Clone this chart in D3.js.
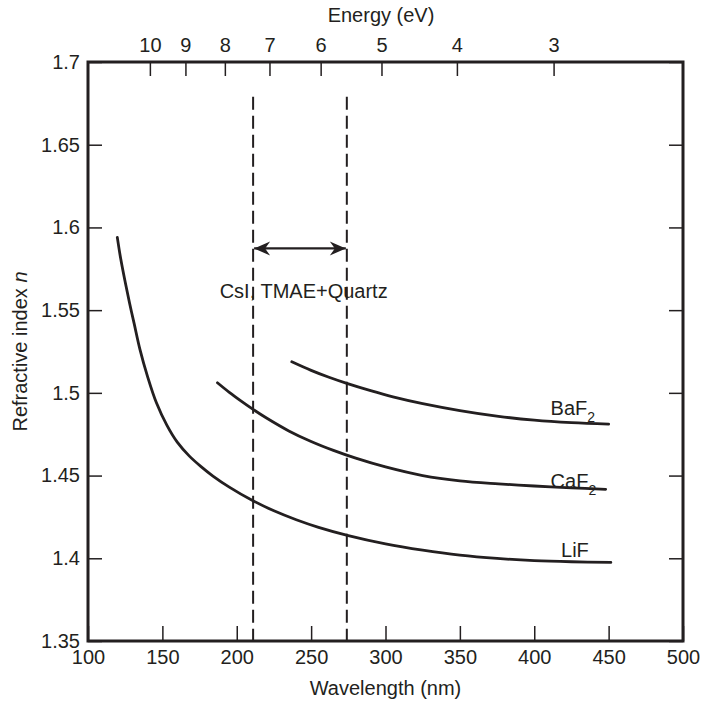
<!DOCTYPE html>
<html lang="en">
<head>
  <meta charset="UTF-8">
  <title>Refractive index vs wavelength</title>
  <script src="https://d3js.org/d3.v7.min.js"></script>
  <style>
    html, body {
      margin: 0;
      padding: 0;
      background: #fff;
    }
    svg text {
      font-family: "Liberation Sans", Arial, Helvetica, sans-serif;
      fill: #231f20;
    }
    .curve {
      fill: none;
      stroke: #231f20;
      stroke-width: 2.8px;
    }
  </style>
</head>
<body>
  <div id="container"></div>
  <script>
    const width = 702;
    const height = 708;

    // data
    const lifWl = [119.7, 122, 125, 128, 131, 135, 140, 146, 153, 160, 168, 176, 184, 195, 210, 225, 240, 255, 275, 300, 325, 350, 375, 400, 425, 451.5];
    const lifN  = [1.594, 1.581, 1.567, 1.554, 1.542, 1.526, 1.510, 1.494, 1.4805, 1.4702, 1.4619, 1.4554, 1.4497, 1.4430, 1.4352, 1.4287, 1.4233, 1.4187, 1.4137, 1.4087, 1.4049, 1.4019, 1.3999, 1.3986, 1.3979, 1.3975];

    const caf2Wl = [187, 195, 203, 211, 220, 235, 250, 265, 280, 300, 325, 350, 376, 400, 425, 448];
    const caf2N  = [1.5061, 1.5003, 1.4950, 1.4900, 1.4848, 1.4770, 1.4706, 1.4652, 1.4605, 1.4552, 1.4500, 1.4468, 1.4450, 1.4437, 1.4426, 1.4417];

    const baf2Wl = [237, 250, 262, 274, 290, 305, 325, 350, 376, 400, 425, 450];
    const baf2N  = [1.5188, 1.5136, 1.5094, 1.5057, 1.5013, 1.4976, 1.4935, 1.4893, 1.4858, 1.4835, 1.4820, 1.4811];

    const xTicks = [100, 150, 200, 250, 300, 350, 400, 450, 500];
    const yTicks = [1.35, 1.4, 1.45, 1.5, 1.55, 1.6, 1.65, 1.7];

    // energy ticks and where they sit on the wavelength axis in the figure
    const energyTicks = [10, 9, 8, 7, 6, 5, 4, 3];
    const energyTickWl = [141.6, 165.5, 192, 222, 256.4, 297.3, 348, 413];

    // CsI / TMAE+Quartz window (nm)
    const windowWl = [211, 274];

    const series = [
      {name: 'LiF', sub: '', wl: lifWl, n: lifN, labelWl: 418, labelN: 1.4005},
      {name: 'CaF', sub: '2', wl: caf2Wl, n: caf2N, labelWl: 411, labelN: 1.4425},
      {name: 'BaF', sub: '2', wl: baf2Wl, n: baf2N, labelWl: 411, labelN: 1.4865}
    ];

    const svg = d3.select('#container').append('svg')
      .attr('width', width).attr('height', height);

    const xScale = d3.scaleLinear().domain([100, 500]).range([88, 683]);
    const yScale = d3.scaleLinear().domain([1.35, 1.7]).range([641, 62]);
    const eScale = d3.scaleLinear().domain(energyTicks).range(energyTickWl.map(xScale));

    // axes (ticks point inward)
    const xAxis = d3.axisBottom(xScale).tickValues(xTicks).tickSizeInner(-15).tickSizeOuter(0).tickPadding(9);
    const yAxis = d3.axisLeft(yScale).tickValues(yTicks).tickSizeInner(-14).tickSizeOuter(0).tickPadding(8)
      .tickFormat(d => String(+d.toFixed(2)));
    const yAxisRight = d3.axisRight(yScale).tickValues(yTicks).tickSizeInner(-14).tickSizeOuter(0).tickFormat('');
    const eAxis = d3.axisTop(eScale).tickValues(energyTicks).tickSizeInner(-14).tickSizeOuter(0).tickPadding(10)
      .tickFormat(d => String(d));

    const gx = svg.append('g').attr('transform', `translate(0,${yScale(1.35)})`).call(xAxis);
    const gy = svg.append('g').attr('transform', `translate(${xScale(100)},0)`).call(yAxis);
    const gyr = svg.append('g').attr('transform', `translate(${xScale(500)},0)`).call(yAxisRight);
    const ge = svg.append('g').attr('transform', `translate(0,${yScale(1.7)})`).call(eAxis);

    [gx, gy, gyr, ge].forEach(g => {
      g.select('.domain').remove();
      g.selectAll('line').attr('stroke', '#231f20').attr('stroke-width', 1.5);
      g.selectAll('text').style('font-size', '20px').attr('fill', '#231f20');
    });

    // frame
    svg.append('rect')
      .attr('x', xScale(100)).attr('y', yScale(1.7))
      .attr('width', xScale(500) - xScale(100))
      .attr('height', yScale(1.35) - yScale(1.7))
      .attr('fill', 'none').attr('stroke', '#231f20').attr('stroke-width', 3);

    // dashed window lines
    svg.selectAll('.window').data(windowWl).enter().append('line')
      .attr('class', 'window')
      .attr('x1', d => xScale(d)).attr('x2', d => xScale(d))
      .attr('y1', yScale(1.679)).attr('y2', yScale(1.35))
      .attr('stroke', '#231f20').attr('stroke-width', 2)
      .attr('stroke-dasharray', '13 6');

    // double arrow
    const defs = svg.append('defs');
    ['start', 'end'].forEach(k => {
      defs.append('marker')
        .attr('id', 'arrow-' + k)
        .attr('viewBox', '-17 -8 19 16')
        .attr('refX', 0).attr('refY', 0)
        .attr('markerWidth', 19).attr('markerHeight', 16)
        .attr('markerUnits', 'userSpaceOnUse')
        .attr('orient', k === 'end' ? 'auto' : 'auto-start-reverse')
        .append('path')
        .attr('d', 'M0,0 L-16,-7 L-11,0 L-16,7 Z')
        .attr('fill', '#231f20');
    });
    svg.append('line')
      .attr('x1', xScale(windowWl[0]) + 1).attr('x2', xScale(windowWl[1]) - 1)
      .attr('y1', yScale(1.5873)).attr('y2', yScale(1.5873))
      .attr('stroke', '#231f20').attr('stroke-width', 2.2)
      .attr('marker-start', 'url(#arrow-start)')
      .attr('marker-end', 'url(#arrow-end)');

    svg.append('text')
      .attr('x', xScale(245)).attr('y', yScale(1.5571))
      .attr('text-anchor', 'middle')
      .style('font-size', '20px')
      .text('CsI, TMAE+Quartz');

    // curves
    const line = d3.line()
      .x(d => xScale(d[0]))
      .y(d => yScale(d[1]))
      .curve(d3.curveCatmullRom.alpha(0.5));

    svg.selectAll('.curve').data(series).enter().append('path')
      .attr('class', 'curve')
      .attr('stroke-linecap', 'round')
      .attr('d', d => line(d.wl.map((w, i) => [w, d.n[i]])));

    const labels = svg.selectAll('.label').data(series).enter().append('text')
      .attr('class', 'label')
      .attr('x', d => xScale(d.labelWl)).attr('y', d => yScale(d.labelN))
      .style('font-size', '20px')
      .text(d => d.name);
    labels.filter(d => d.sub).append('tspan')
      .attr('dy', 7).style('font-size', '14px')
      .text(d => d.sub);

    // axis titles
    svg.append('text')
      .attr('x', (xScale(100) + xScale(500)) / 2).attr('y', 695)
      .attr('text-anchor', 'middle').style('font-size', '20px')
      .text('Wavelength (nm)');

    svg.append('text')
      .attr('x', 381).attr('y', 22)
      .attr('text-anchor', 'middle').style('font-size', '20px')
      .text('Energy (eV)');

    const yTitle = svg.append('text')
      .attr('transform', `translate(27,${(yScale(1.35) + yScale(1.7)) / 2}) rotate(-90)`)
      .attr('text-anchor', 'middle').style('font-size', '20px');
    yTitle.append('tspan').text('Refractive index ');
    yTitle.append('tspan').style('font-style', 'italic').text('n');
  </script>
</body>
</html>
